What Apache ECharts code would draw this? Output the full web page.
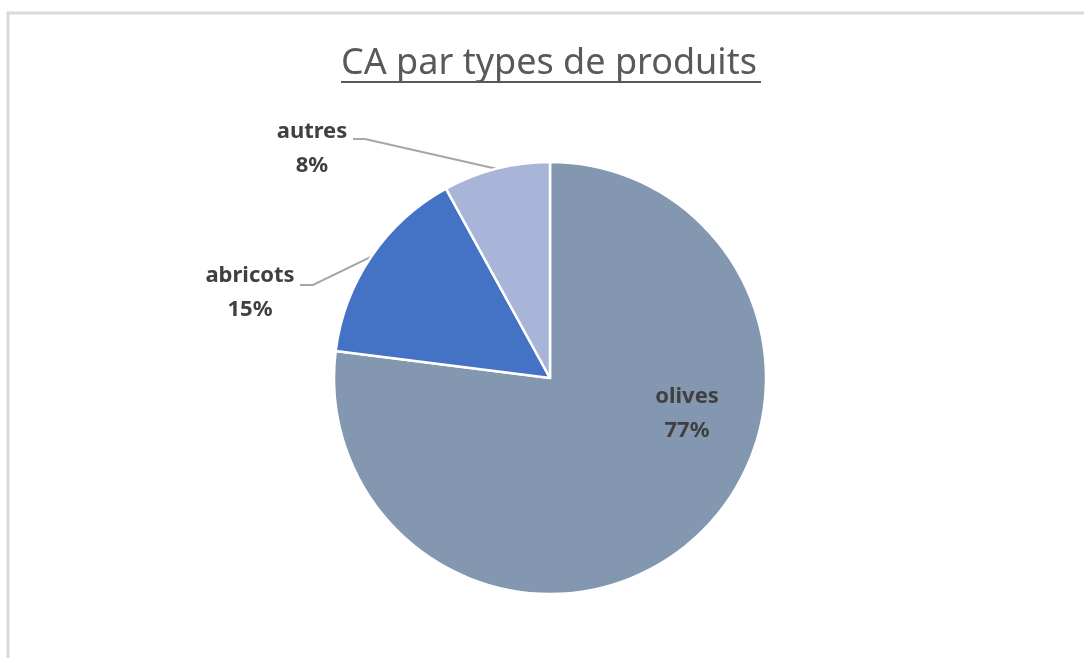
<!DOCTYPE html>
<html>
<head>
<meta charset="utf-8">
<script src="https://cdn.jsdelivr.net/npm/echarts@6/dist/echarts.min.js"></script>
<style>
  html, body { margin: 0; padding: 0; background: #fff; }
  #main { width: 1084px; height: 658px; }
</style>
</head>
<body>
<div id="main"></div>
<script>
// données du graphique
var categories = ['olives', 'abricots', 'autres'];
var values = [77, 15, 8];
var colors = ['#8497b0', '#4472c4', '#a9b4d9'];

// emplacement des étiquettes (façon Excel)
var labelSpots = [
    { x: 687, y: 414 },
    { x: 250, y: 293, line: [[313, 285], [300, 285]] },
    { x: 312, y: 149, line: [[365, 139], [353, 139]] }
];

var myChart = echarts.init(document.getElementById('main'));

myChart.setOption({
    animation: false,
    title: {
        text: 'CA par types de produits',
        left: 336,
        top: 41,
        textStyle: {
            color: '#595959',
            fontFamily: 'Noto Sans',
            fontWeight: 'normal',
            fontSize: 36
        }
    },
    graphic: [
        {
            // cadre gris
            type: 'polyline',
            shape: { points: [[8, 658], [8, 13], [1084, 13]] },
            style: { stroke: '#d9d9d9', lineWidth: 3, fill: null }
        },
        {
            // soulignement du titre
            type: 'line',
            shape: { x1: 341, y1: 82, x2: 761, y2: 82 },
            style: { stroke: '#595959', lineWidth: 2 }
        }
    ],
    series: [{
        name: 'CA',
        type: 'pie',
        center: [550, 378],
        radius: 216,
        startAngle: 90,
        clockwise: true,
        data: categories.map(function (c, i) {
            return {
                name: c,
                value: values[i],
                itemStyle: { color: colors[i] },
                label: { position: i === 0 ? 'inside' : 'outside' }
            };
        }),
        itemStyle: {
            borderColor: '#fff',
            borderWidth: 2.5
        },
        label: {
            formatter: '{b}\n{d}%',
            color: '#404040',
            fontFamily: 'Noto Sans',
            fontWeight: 'bold',
            fontSize: 22,
            lineHeight: 34,
            align: 'center'
        },
        labelLine: {
            show: true,
            length: 20,
            length2: 10,
            lineStyle: { color: '#a6a6a6', width: 2 }
        },
        labelLayout: function (params) {
            var spot = labelSpots[params.dataIndex];
            var out = {
                x: spot.x,
                y: spot.y,
                align: 'center',
                verticalAlign: 'middle'
            };
            if (spot.line && params.labelLinePoints) {
                out.labelLinePoints = [params.labelLinePoints[0]].concat(spot.line);
            }
            return out;
        },
        emphasis: { disabled: true }
    }]
});
</script>
</body>
</html>
